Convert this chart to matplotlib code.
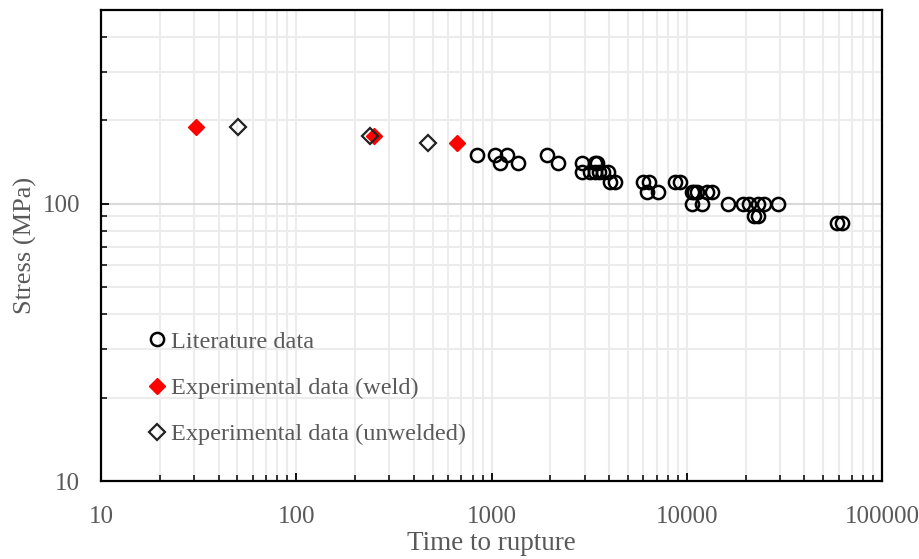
import numpy as np
import matplotlib
matplotlib.use("Agg")
import matplotlib.pyplot as plt
from matplotlib.ticker import LogLocator, FixedLocator, FixedFormatter, NullFormatter

# -------------------------------
# Data
# -------------------------------
lit_time = [840, 1040, 1200, 1930,
            1100, 1360, 2180, 2900, 3390, 3450,
            2900, 3200, 3390, 3570, 3740, 3940,
            4050, 4290, 5950, 6430, 8710, 9240,
            6280, 7150, 10600, 10900, 11300, 12650, 13420,
            10600, 11930, 16320, 19490, 20920, 23260, 24870, 29440,
            22090, 23260,
            58600, 62200]
lit_stress = [150, 150, 150, 150,
              140, 140, 140, 140, 140, 140,
              130, 130, 130, 130, 130, 130,
              120, 120, 120, 120, 120, 120,
              110, 110, 110, 110, 110, 110, 110,
              100, 100, 100, 100, 100, 100, 100, 100,
              90, 90,
              85, 85]

weld_time = [30.7, 250, 665]
weld_stress = [190, 176, 165]

unw_time = [50.3, 239, 473]
unw_stress = [190, 176, 165]

x_ticks = [10, 100, 1000, 10000, 100000]
y_ticks = [10, 100]

# -------------------------------
# Plot
# -------------------------------
plt.rcParams['font.family'] = ['Liberation Serif', 'DejaVu Serif']
grey = '#595959'

fig = plt.figure(figsize=(9.2, 5.59), dpi=100)
ax = fig.add_axes([0.1098, 0.1395, 0.8489, 0.8426])

ax.set_xscale('log')
ax.set_yscale('log')
ax.set_xlim(10, 100000)
ax.set_ylim(10, 500)

ax.plot(lit_time, lit_stress, 'o', ms=9.5, mfc='none', mec='black', mew=1.8,
        ls='none', label='Literature data', zorder=3)
ax.plot(weld_time, weld_stress, 'D', ms=8, mfc='red', mec='red', mew=1,
        ls='none', label='Experimental data (weld)', zorder=4)
ax.plot(unw_time, unw_stress, 'D', ms=8, mfc='none', mec='#222222', mew=1.6,
        ls='none', label='Experimental data (unwelded)', zorder=4)

# grid
ax.xaxis.set_minor_locator(LogLocator(base=10, subs=np.arange(2, 10)))
ax.yaxis.set_minor_locator(LogLocator(base=10, subs=np.arange(2, 10)))
ax.grid(which='minor', color='#ececec', lw=1.5)
ax.grid(which='major', axis='x', color='#ececec', lw=1.5)
ax.grid(which='major', axis='y', color='#d9d9d9', lw=1.5)
ax.set_axisbelow(True)

ax.xaxis.set_major_locator(FixedLocator(x_ticks))
ax.xaxis.set_major_formatter(FixedFormatter([str(v) for v in x_ticks]))
ax.xaxis.set_minor_formatter(NullFormatter())
ax.yaxis.set_major_locator(FixedLocator(y_ticks))
ax.yaxis.set_major_formatter(FixedFormatter([str(v) for v in y_ticks]))
ax.yaxis.set_minor_formatter(NullFormatter())

ax.tick_params(which='major', direction='in', length=6, width=1.3,
               labelsize=18, labelcolor=grey, color='black')
ax.tick_params(which='minor', direction='in', length=4.5, width=1.1, color='black')
ax.tick_params(axis='x', which='major', pad=18)
ax.tick_params(axis='y', which='major', pad=15)

for sp in ax.spines.values():
    sp.set_color('black')
    sp.set_linewidth(1.6)

ax.set_xlabel('Time to rupture', fontsize=19.5, color=grey, labelpad=2)
ax.set_ylabel('Stress (MPa)', fontsize=19, color=grey, labelpad=4)

leg = ax.legend(loc='lower left', bbox_to_anchor=(0.04, 0.055), frameon=False,
                fontsize=17.5, labelspacing=1.0, handletextpad=0.0,
                handlelength=1.2, borderaxespad=0)
for t in leg.get_texts():
    t.set_color(grey)

fig.savefig('out.png', dpi=100)
